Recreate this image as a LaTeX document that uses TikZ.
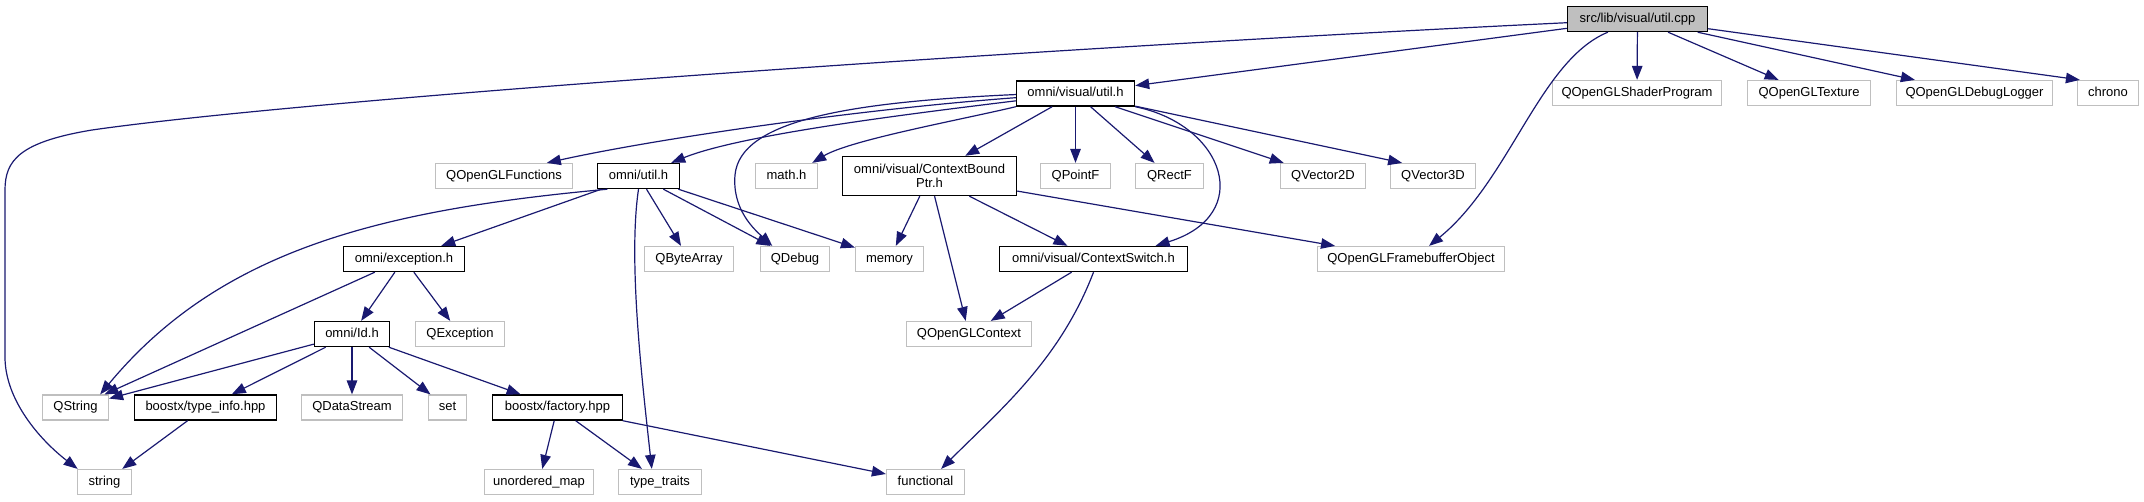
\documentclass[tikz,border=0pt]{standalone}
\usepackage{fontspec}
\setmainfont{Liberation Sans}
\usetikzlibrary{arrows.meta}
\definecolor{edgec}{HTML}{191970}
\definecolor{gbord}{HTML}{BFBFBF}
\begin{document}
\begin{tikzpicture}[x=1pt,y=-1pt,
  font=\fontsize{13}{14.5}\selectfont,
  base/.style={rectangle, inner sep=0pt, minimum height=25pt},
  one/.style={base, text height=9.4pt, text depth=2.8pt},
  hdr/.style={one, draw=black, line width=1.4pt, fill=white},
  hdrtwo/.style={base, draw=black, line width=1.4pt, fill=white, align=center, minimum height=39pt},
  ext/.style={one, draw=gbord, line width=1.2pt, fill=white},
  root/.style={one, draw=black, line width=1.4pt, fill=gbord},
  dep/.style={draw=edgec, line width=1.2pt, -{Triangle[length=14pt,width=10.5pt]}}]
\useasboundingbox (0,0) rectangle (2144,501);
% row 1
\node[root, minimum width=140pt] (A) at (1637.5,19) {src/lib/visual/util.cpp};
% row 2
\node[hdr, minimum width=118pt] (B) at (1075.5,93.5) {omni/visual/util.h};
\node[ext, minimum width=169pt] (QSP) at (1637,93) {QOpenGLShaderProgram};
\node[ext, minimum width=123pt] (QTex) at (1809,93) {QOpenGLTexture};
\node[ext, minimum width=156pt] (QDL) at (1974.5,93) {QOpenGLDebugLogger};
\node[ext, minimum width=61pt] (chrono) at (2108,93) {chrono};
% row 3
\node[ext, minimum width=137pt] (QF) at (504,176) {QOpenGLFunctions};
\node[hdr, minimum width=82pt] (C) at (638.5,176) {omni/util.h};
\node[ext, minimum width=62pt] (mathh) at (786.5,176) {math.h};
\node[hdrtwo, minimum width=174pt] (D) at (929.5,176) {omni/visual/ContextBound\\Ptr.h};
\node[ext, minimum width=70pt] (QPF) at (1075.5,176) {QPointF};
\node[ext, minimum width=68pt] (QRF) at (1169.5,176) {QRectF};
\node[ext, minimum width=85pt] (QV2) at (1323,176) {QVector2D};
\node[ext, minimum width=85pt] (QV3) at (1433,176) {QVector3D};
% row 4
\node[hdr, minimum width=121pt] (F) at (404,259) {omni/exception.h};
\node[ext, minimum width=89pt] (QBA) at (689,259) {QByteArray};
\node[ext, minimum width=69pt] (QDbg) at (795,259) {QDebug};
\node[ext, minimum width=68pt] (mem) at (889.5,259) {memory};
\node[hdr, minimum width=188pt] (E) at (1093.5,259) {omni/visual/ContextSwitch.h};
\node[ext, minimum width=187pt] (FBO) at (1411,259) {QOpenGLFramebufferObject};
% row 5
\node[hdr, minimum width=75pt] (G) at (352,334) {omni/Id.h};
\node[ext, minimum width=89pt] (QExc) at (460,334) {QException};
\node[ext, minimum width=125pt] (QGC) at (969,334) {QOpenGLContext};
% row 6
\node[ext, minimum width=66pt] (QS) at (75.5,407.5) {QString};
\node[hdr, minimum width=142pt] (H) at (205.5,407.5) {boostx/type\_info.hpp};
\node[ext, minimum width=101pt] (QDS) at (352,407.5) {QDataStream};
\node[ext, minimum width=38pt] (setn) at (447.5,407.5) {set};
\node[hdr, minimum width=130pt] (I) at (557.5,407.5) {boostx/factory.hpp};
% row 7
\node[ext, minimum width=54pt] (str) at (104.5,482) {string};
\node[ext, minimum width=109pt] (um) at (539,482) {unordered\_map};
\node[ext, minimum width=83pt] (tt) at (660,482) {type\_traits};
\node[ext, minimum width=78pt] (func) at (925.5,482) {functional};
% edges from src/lib/visual/util.cpp
\draw[dep] (A) -- (B);
\draw[dep] (A.183) .. controls (1000,50) and (300,100) .. (92,130)
  .. controls (20,142) and (5,160) .. (5,190) -- (5,357)
  .. controls (5,400) and (40,440) .. (str.154);
\draw[dep] (A.204) .. controls (1540,60) and (1510,180) .. (FBO.36);
\draw[dep] (A) -- (QSP);
\draw[dep] (A) -- (QTex);
\draw[dep] (A) -- (QDL);
\draw[dep] (A) -- (chrono.155);
% edges from omni/visual/util.h
\draw[dep] (B.184) .. controls (850,110) and (650,140) .. (QF.17);
\draw[dep] (B.187) .. controls (900,115) and (740,135) .. (C.22);
\draw[dep] (B.181) .. controls (850,102) and (740,120) .. (735,175)
  .. controls (732,210) and (755,230) .. (QDbg.150);
\draw[dep] (B.south west) .. controls (960,120) and (850,140) .. (mathh.27);
\draw[dep] (B) -- (D);
\draw[dep] (B) -- (QPF);
\draw[dep] (B) -- (QRF);
\draw[dep] (B) -- (QV2);
\draw[dep] (B) -- (QV3.157);
\draw[dep] (B.south east) .. controls (1225,125) and (1255,215) .. (E.12);
% edges from omni/util.h
\draw[dep] (C.203) .. controls (380,210) and (220,250) .. (QS.28);
\draw[dep] (C) -- (F);
\draw[dep] (C.south) .. controls (628,260) and (642,380) .. (tt.122);
\draw[dep] (C) -- (QBA);
\draw[dep] (C) -- (QDbg);
\draw[dep] (C) -- (mem);
% edges from ContextBoundPtr.h
\draw[dep] (D) -- (mem);
\draw[dep] (D) -- (QGC);
\draw[dep] (D) -- (E);
\draw[dep] (D) -- (FBO);
% edges from ContextSwitch.h
\draw[dep] (E) -- (QGC);
\draw[dep] (E.south) .. controls (1060,360) and (1000,410) .. (func.40);
% edges from omni/exception.h
\draw[dep] (F) -- (QS);
\draw[dep] (F) -- (G);
\draw[dep] (F) -- (QExc);
% edges from omni/Id.h
\draw[dep] (G) -- (QS);
\draw[dep] (G) -- (H);
\draw[dep] (G) -- (QDS);
\draw[dep] (G) -- (setn);
\draw[dep] (G) -- (I);
% edges from boostx headers
\draw[dep] (H) -- (str);
\draw[dep] (I) -- (um);
\draw[dep] (I) -- (tt);
\draw[dep] (I) -- (func);
\end{tikzpicture}
\end{document}
